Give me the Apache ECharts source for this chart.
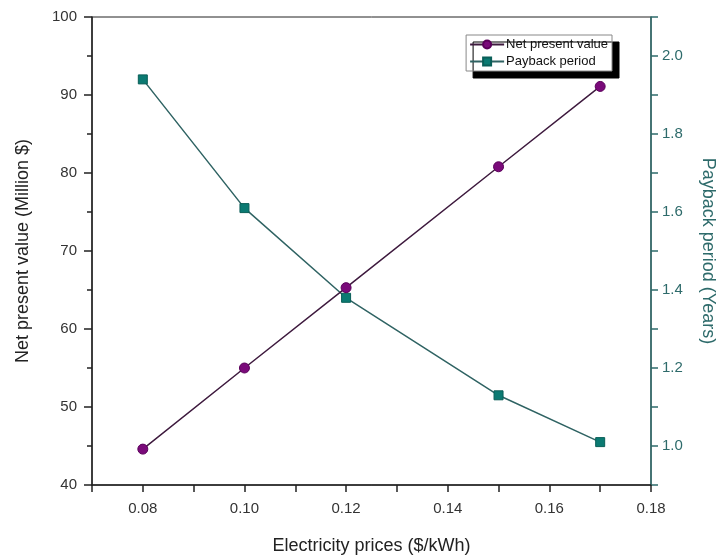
<!DOCTYPE html>
<html>
<head>
<meta charset="utf-8">
<script src="https://cdn.jsdelivr.net/npm/echarts@6/dist/echarts.min.js"></script>
<style>
  html, body { margin: 0; padding: 0; background: #fff; }
  #chart { width: 718px; height: 557px; }
</style>
</head>
<body>
<div id="chart"></div>
<script>
const prices = [0.08, 0.10, 0.12, 0.15, 0.17];
const npv = [44.6, 55.0, 65.3, 80.8, 91.1];
const payback = [1.94, 1.61, 1.38, 1.13, 1.01];

const npvColor = "#7a0a7a";
const npvLine = "#3e1a3e";
const pbColor = "#0b7a72";
const pbLine = "#2f6363";
const rightAxisColor = "#2e6b6b";
const font = "Liberation Sans, Arial, sans-serif";

const chart = echarts.init(document.getElementById("chart"), null, { renderer: "canvas" });

const option = {
  animation: false,
  textStyle: { fontFamily: font },
  grid: {
    left: 92,
    right: 67,
    top: 17,
    bottom: 72,
    outerBoundsMode: "none",
    containLabel: false,
    show: true,
    borderColor: "#222",
    borderWidth: 1,
  },
  legend: {
    right: 106,
    top: 35,
    orient: "vertical",
    itemGap: 4,
    itemWidth: 34,
    itemHeight: 10,
    padding: [3, 4, 3, 3],
    backgroundColor: "#fff",
    borderColor: "#888",
    borderWidth: 1,
    shadowColor: "#000",
    shadowBlur: 0,
    shadowOffsetX: 7,
    shadowOffsetY: 7,
    textStyle: { fontFamily: font, fontSize: 13, color: "#111", padding: [0, 0, 0, -3] },
    data: ["Net present value", "Payback period"],
  },
  xAxis: {
    type: "value",
    min: 0.07,
    max: 0.18,
    interval: 0.01,
    name: "Electricity prices ($/kWh)",
    nameLocation: "middle",
    nameGap: 52,
    nameTextStyle: { fontSize: 18, color: "#222" },
    axisLine: { lineStyle: { color: "#222", width: 1.5 } },
    axisTick: { inside: false, length: 7, lineStyle: { color: "#222", width: 1.5 } },
    axisLabel: {
      fontSize: 15,
      color: "#333",
      margin: 16,
      formatter: (v) => (Math.round(v * 100) % 2 === 0 ? v.toFixed(2) : ""),
    },
    splitLine: { show: false },
  },
  yAxis: [
    {
      type: "value",
      min: 40,
      max: 100,
      interval: 10,
      position: "left",
      name: "Net present value (Million $)",
      nameLocation: "middle",
      nameGap: 60,
      nameTextStyle: { fontSize: 18, color: "#222" },
      axisLine: { show: true, lineStyle: { color: "#222", width: 1.5 } },
      axisTick: { show: true, length: 8, lineStyle: { color: "#222", width: 1.5 } },
      minorTick: { show: true, splitNumber: 2, length: 5, lineStyle: { color: "#222", width: 1.5 } },
      axisLabel: { fontSize: 15, color: "#333", margin: 15 },
      splitLine: { show: false },
    },
    {
      type: "value",
      min: 0.9,
      max: 2.1,
      interval: 0.1,
      position: "right",
      name: "Payback period (Years)",
      nameLocation: "middle",
      nameRotate: -90,
      nameGap: 48,
      nameTextStyle: { fontSize: 18, color: rightAxisColor },
      axisLine: { show: true, lineStyle: { color: rightAxisColor, width: 1.5 } },
      axisTick: { show: true, length: 7, lineStyle: { color: rightAxisColor, width: 1.5 } },
      axisLabel: {
        fontSize: 15,
        color: rightAxisColor,
        margin: 11,
        formatter: (v) => {
          const t = Math.round(v * 10);
          return t % 2 === 0 && t >= 10 && t <= 20 ? v.toFixed(1) : "";
        },
      },
      splitLine: { show: false },
    },
  ],
  series: [
    {
      name: "Net present value",
      type: "line",
      yAxisIndex: 0,
      data: prices.map((p, i) => [p, npv[i]]),
      symbol: "circle",
      symbolSize: 10,
      lineStyle: { color: npvLine, width: 1.5 },
      itemStyle: { color: npvColor, borderColor: "#5a005a", borderWidth: 1 },
      z: 3,
    },
    {
      name: "Payback period",
      type: "line",
      yAxisIndex: 1,
      data: prices.map((p, i) => [p, payback[i]]),
      symbol: "rect",
      symbolSize: 9,
      lineStyle: { color: pbLine, width: 1.5 },
      itemStyle: { color: pbColor, borderColor: "#0a5f58", borderWidth: 1 },
      z: 2,
    },
  ],
};

chart.setOption(option);
</script>
</body>
</html>
